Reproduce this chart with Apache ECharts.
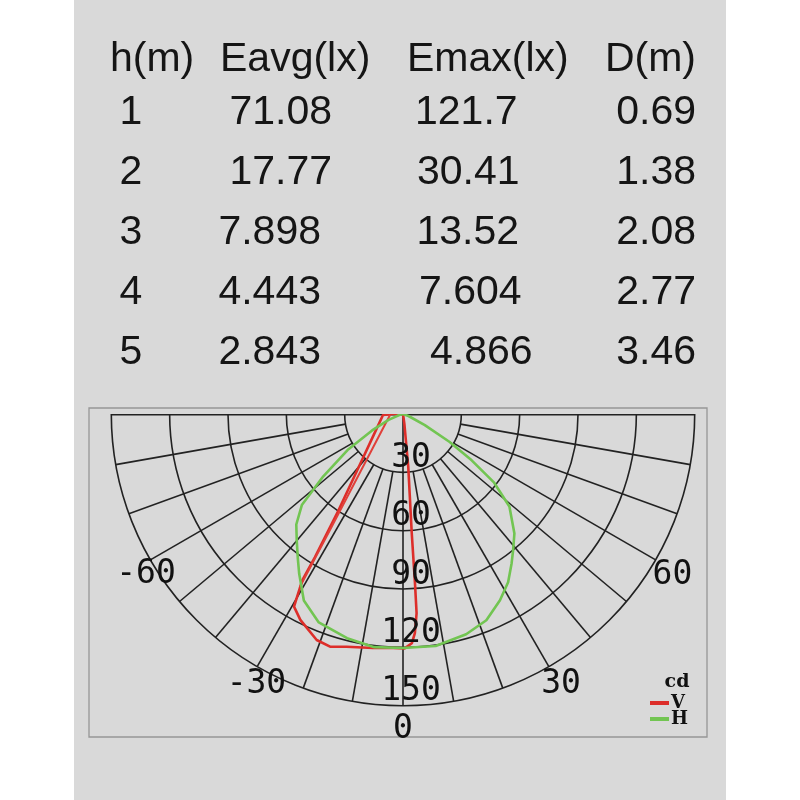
<!DOCTYPE html>
<html><head><meta charset="utf-8">
<script src="https://cdn.jsdelivr.net/npm/echarts@6/dist/echarts.min.js"></script>
<style>html,body{margin:0;padding:0;background:#fff}#c{width:800px;height:800px}</style>
</head><body><div id="c"></div>
<script>
// ---------- data ----------
const tableHeader = ['h(m)', 'Eavg(lx)', 'Emax(lx)', 'D(m)'];
const heights = ['1', '2', '3', '4', '5'];
const eavg = ['71.08', '17.77', '7.898', '4.443', '2.843'];
const emax = ['121.7', '30.41', '13.52', '7.604', '4.866'];
const dist = ['0.69', '1.38', '2.08', '2.77', '3.46'];

const ringTicks = [30, 60, 90, 120, 150];
const angleTicks = [-60, -30, 0, 30, 60];
const spokeAngles = [-90, -80, -70, -60, -50, -40, -30, -20, -10, 0, 10, 20, 30, 40, 50, 60, 70, 80, 90];

// H plane (green): gamma (deg) and intensity (cd)
const hGamma = [-90, -75, -68, -62, -57, -52, -48, -44, -40, -36, -33, -28, -22, -14, -7, 0, 8, 16, 22, 27.5, 32, 36, 39, 43, 49, 53, 56, 59, 63, 70, 90];
const hCd    = [0, 2, 8, 18, 34, 52, 70, 79, 85, 92, 98, 108.6, 115.6, 118.8, 120.8, 120.3, 120.5, 117.8, 114.4, 108, 102, 95, 90, 84, 72.5, 58.7, 42.6, 28, 12.6, 3, 0];

// V plane (red): traced outline
const vGamma = [10, 8, 5.7, 4.2, 4.05, 3.9, 3.1, 2.2, 0.4, -2.4, -7.3, -13.6, -17.4, -20.9, -26.5, -29.5, -31.2, -31.6, -33.8, -40.9, -55.2, -87, -90, -90];
const vCd    = [0, 5, 27.2, 61.5, 87.3, 102.7, 112.9, 118, 120.5, 120.4, 121.3, 123.1, 125.4, 124.4, 118.3, 113.8, 100, 86.5, 59.7, 33.2, 18.1, 10.3, 5, 0];
// V plane second (inner) trace on the left
const v2Gamma = [-30.8, -32.2, -36.2, -50.4, -85.6];
const v2Cd    = [103.5, 70.6, 37.9, 14.7, 6.7];

// ---------- build ----------
const zip = (g, r) => g.map((a, i) => [r[i], a]); // polar data: [radius, angle]

const GRID = '#222';
const tableFont = 'Liberation Sans, Arial, sans-serif';
const monoFont = 'DejaVu Sans Mono, monospace';

const series = [];
spokeAngles.forEach(a => {
  const full = (a === 0 || Math.abs(a) === 90);
  series.push({
    type: 'line', coordinateSystem: 'polar', silent: true, clip: false,
    symbol: 'none', z: 1,
    lineStyle: { color: GRID, width: Math.abs(a) === 90 ? 2.8 : 1.6 },
    data: [[full ? 0 : 30, a], [150, a]]
  });
});
series.push({
  name: 'V', type: 'line', coordinateSystem: 'polar', clip: false, symbol: 'none', z: 3,
  lineStyle: { color: '#dd2e2a', width: 2.6 }, itemStyle: { color: '#dd2e2a' },
  data: zip(vGamma, vCd)
});
series.push({
  name: 'V', type: 'line', coordinateSystem: 'polar', clip: false, symbol: 'none', z: 3,
  lineStyle: { color: '#e0403a', width: 2 }, itemStyle: { color: '#dd2e2a' },
  data: zip(v2Gamma, v2Cd)
});
series.push({
  name: 'H', type: 'line', coordinateSystem: 'polar', clip: false, symbol: 'none', z: 4,
  lineStyle: { color: '#72c552', width: 2.6 }, itemStyle: { color: '#72c552' },
  data: zip(hGamma, hCd)
});
const labelStyle = { show: true, position: 'inside', color: '#111', fontFamily: monoFont, fontSize: 33,
  textBorderWidth: 0, textBorderColor: 'transparent', opacity: 1 };
// ring value labels along the 0 deg spoke
series.push({
  type: 'scatter', coordinateSystem: 'polar', clip: false, silent: true, z: 6,
  symbolSize: 0, itemStyle: { color: '#000' },
  data: ringTicks.map(r => [r, 0]),
  label: Object.assign({}, labelStyle, { offset: [8, -14], formatter: p => String(p.value[0]) })
});
// angle labels outside the outer ring
const angleLabelOffset = { '-60': [12.5, 5], '-30': [9, 1], '0': [0, 4], '30': [2.5, 1], '60': [0, 6] };
series.push({
  type: 'scatter', coordinateSystem: 'polar', clip: false, silent: true, z: 6,
  symbolSize: 0, itemStyle: { color: '#000' },
  data: angleTicks.map(a => ({ value: [160, a], label: { offset: angleLabelOffset[String(a)] } })),
  label: Object.assign({}, labelStyle, { formatter: p => String(p.value[1]) })
});

// table text
const graphics = [
  { type: 'rect', z: -10, shape: { x: 74, y: 0, width: 652, height: 800 }, style: { fill: '#d9d9d9' } },
  { type: 'rect', z: -9, shape: { x: 89, y: 408, width: 618, height: 329 }, style: { fill: 'none', stroke: '#969696', lineWidth: 1.3 } },
  { type: 'text', x: 677, y: 682, style: { text: 'cd', font: 'bold 19px DejaVu Serif, serif', fill: '#111', align: 'center', verticalAlign: 'middle' } }
];
const hdrX = [[110, 'left'], [220, 'left'], [407, 'left'], [696, 'right']];
tableHeader.forEach((t, i) => graphics.push({ type: 'text', x: hdrX[i][0], y: 60,
  style: { text: t, font: '41px ' + tableFont, fill: '#151515', align: hdrX[i][1], verticalAlign: 'middle' } }));
const eavgRight = [332, 332, 321, 321, 321];
const emaxLeft = [415, 417, 416.5, 419, 430];
heights.forEach((h, i) => {
  const y = 113 + 60 * i;
  const st = (t, al) => ({ text: t, font: '41px ' + tableFont, fill: '#151515', align: al, verticalAlign: 'middle' });
  graphics.push({ type: 'text', x: 131, y, style: st(h, 'center') });
  graphics.push({ type: 'text', x: eavgRight[i], y, style: st(eavg[i], 'right') });
  graphics.push({ type: 'text', x: emaxLeft[i], y, style: st(emax[i], 'left') });
  graphics.push({ type: 'text', x: 696, y, style: st(dist[i], 'right') });
});

const chart = echarts.init(document.getElementById('c'), null, { renderer: 'canvas' });
chart.setOption({
  animation: false,
  backgroundColor: 'transparent',
  polar: { center: [403, 414], radius: [0, 291.7] },
  angleAxis: {
    type: 'value', min: -90, max: 90, interval: 30,
    startAngle: 180, endAngle: 360, clockwise: false,
    axisLine: { show: false }, axisTick: { show: false }, axisLabel: { show: false },
    splitLine: { show: false }
  },
  radiusAxis: {
    type: 'value', min: 0, max: 150, interval: 30,
    axisLine: { show: false }, axisTick: { show: false }, axisLabel: { show: false },
    splitLine: { show: true, lineStyle: { color: GRID, width: 1.6 } }
  },
  legend: {
    data: ['V', 'H'], orient: 'vertical', left: 645, top: 689,
    icon: 'rect', itemWidth: 19, itemHeight: 4, itemGap: -2, selectedMode: false,
    textStyle: { fontFamily: 'DejaVu Serif, serif', fontWeight: 'bold', fontSize: 18, color: '#111', padding: [0, 0, 0, -3] }
  },
  graphic: graphics,
  series
});
</script></body></html>
